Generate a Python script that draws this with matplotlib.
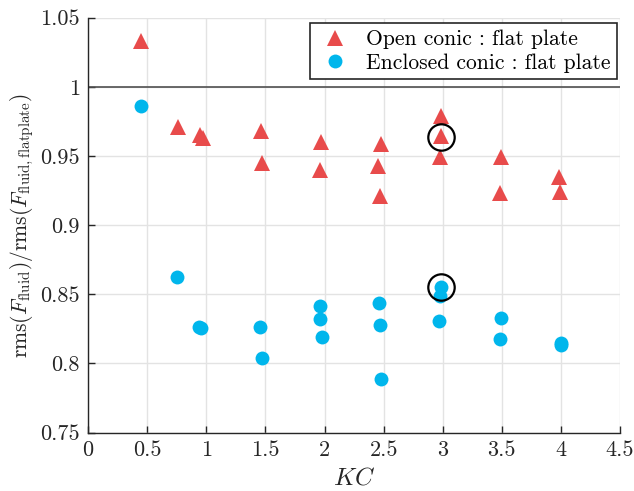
import numpy as np
import matplotlib
matplotlib.use("Agg")
import matplotlib.pyplot as plt

# ── data ─────────────────────────────────────────────────────────────────────
kc_open = [0.45, 0.76, 0.95, 0.97, 1.465, 1.47, 1.968, 1.96, 2.478, 2.455, 2.472,
           2.989, 2.984, 2.975, 3.493, 3.484, 3.982, 3.99]
ratio_open = [1.033, 0.971, 0.965, 0.963, 0.968, 0.945, 0.960, 0.940, 0.9586, 0.9427,
              0.9212, 0.979, 0.9644, 0.9494, 0.9494, 0.9234, 0.9345, 0.9241]

kc_encl = [0.45, 0.753, 0.936, 0.959, 1.456, 1.468, 1.965, 1.965, 1.98, 2.463, 2.469,
           2.478, 2.984, 2.978, 2.967, 3.495, 3.487, 3.997, 4.0]
ratio_encl = [0.986, 0.8627, 0.8266, 0.8254, 0.8262, 0.8038, 0.8418, 0.8322, 0.8194,
              0.8439, 0.8276, 0.7886, 0.8555, 0.849, 0.8309, 0.8331, 0.8179, 0.815, 0.8131]

# circled points
kc_mark = [2.984, 2.984]
ratio_mark = [0.9637, 0.8555]

RED  = "#E84B4B"
BLUE = "#00B6EC"
INK  = "#262626"

plt.rcParams["font.family"] = "serif"
plt.rcParams["font.serif"] = ["cmr10", "DejaVu Serif"]
plt.rcParams["mathtext.fontset"] = "cm"
plt.rcParams["axes.formatter.use_mathtext"] = True

fig = plt.figure(figsize=(6.34, 4.91), dpi=100)
ax = fig.add_axes([0.139, 0.119, 0.839, 0.845])

ax.grid(True, color="#E3E3E3", lw=1.0)
ax.set_axisbelow(True)
ax.axhline(1.0, color="#505050", lw=1.2, zorder=1)

ax.plot(kc_open, ratio_open, "^", color=RED, ms=11, mew=0, ls="none",
        label="Open conic : flat plate", zorder=3)
ax.plot(kc_encl, ratio_encl, "o", color=BLUE, ms=10, mew=0, ls="none",
        label="Enclosed conic : flat plate", zorder=3)
ax.plot(kc_mark, ratio_mark, "o", mfc="none", mec="black", ms=19, mew=1.6,
        ls="none", zorder=4)

ax.set_xlim(0, 4.5)
ax.set_ylim(0.75, 1.05)
ax.set_xticks(np.arange(0, 4.51, 0.5))
ax.set_yticks(np.arange(0.75, 1.051, 0.05))
ax.set_xticklabels(["0", "0.5", "1", "1.5", "2", "2.5", "3", "3.5", "4", "4.5"])
ax.set_yticklabels(["0.75", "0.8", "0.85", "0.9", "0.95", "1", "1.05"])
ax.tick_params(direction="in", length=5, width=1, colors=INK, labelsize=16,
               labelcolor=INK, pad=6)

for s in ["top", "right"]:
    ax.spines[s].set_visible(False)
for s in ["left", "bottom"]:
    ax.spines[s].set_color(INK)
    ax.spines[s].set_linewidth(1.0)

ax.set_xlabel(r"$KC$", fontsize=18, color=INK, labelpad=5)
ax.set_ylabel(r"$\mathrm{rms}(F_{\mathrm{fluid}})/\mathrm{rms}(F_{\mathrm{fluid,flatplate}})$",
              fontsize=15.5, color=INK, labelpad=3)

leg = ax.legend(loc="upper right", bbox_to_anchor=(0.994, 0.987), borderaxespad=0,
                fancybox=False, edgecolor=INK, framealpha=1, fontsize=15.5,
                handletextpad=0.6, borderpad=0.3, labelspacing=0.2, handlelength=1.7)
leg.get_frame().set_linewidth(1.2)

fig.savefig("out.png", dpi=100)
